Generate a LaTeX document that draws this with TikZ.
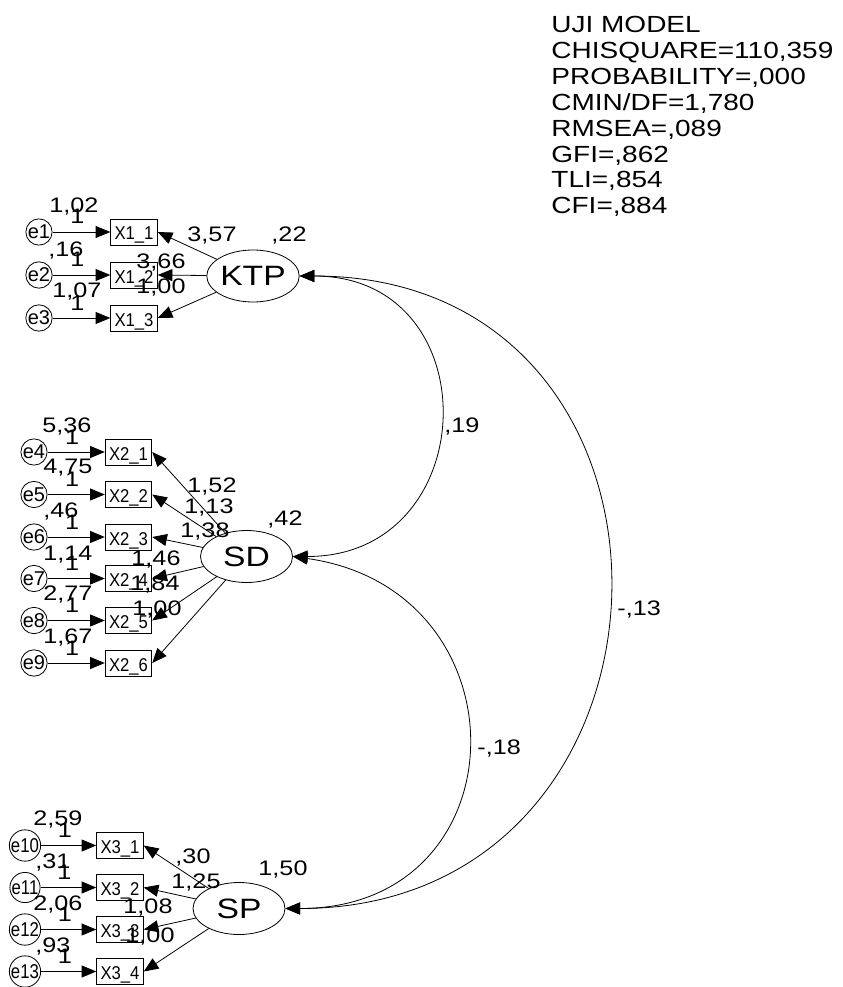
\documentclass[tikz,border=0pt]{standalone}
\usepackage{fontspec}
\setmainfont{Liberation Sans}[FakeStretch=1.2]
\newfontfamily\boxfont{Liberation Sans}[FakeStretch=0.9]
\newfontfamily\efont{Liberation Sans}
\newfontfamily\efontc{Liberation Sans}[FakeStretch=0.84]
\usetikzlibrary{arrows.meta,shapes.geometric}
\begin{document}
\begin{tikzpicture}[x=0.75pt,y=-0.75pt,line width=0.6pt,
  tip/.style={-{Triangle[length=11pt,width=9pt]}},
  dtip/.style={{Triangle[length=11pt,width=9pt]}-{Triangle[length=11pt,width=9pt]}},
  obs/.style={draw, rectangle, minimum width=35pt, minimum height=19.5pt, inner sep=0pt,
    font=\boxfont\fontsize{13.9}{14}\selectfont, text height=12pt, text depth=-2pt},
  err/.style={draw, circle, minimum size=19.5pt, inner sep=0pt, font=\efont\fontsize{15}{15}\selectfont},
  errc/.style={err, font=\efontc\fontsize{15}{15}\selectfont},
  lat/.style={draw, ellipse, minimum width=69pt, minimum height=39pt, inner sep=0pt, font=\fontsize{21}{21}\selectfont},
  lbl/.style={inner sep=0pt, anchor=base, font=\fontsize{15.75}{16}\selectfont},
  lblw/.style={lbl, anchor=base west},
  one/.style={lbl, anchor=base, yshift=6pt},
  fitstat/.style={inner sep=0pt, anchor=base west, font=\fontsize{17.5}{18}\selectfont},
]
\fill[white] (0,0) rectangle (842,987);
\useasboundingbox (0,0) rectangle (842,987);

% fit statistics
\node[fitstat] (f1) at (551,33) {UJI MODEL};
\node[fitstat] (f2) at (551,59) {CHISQUARE=110,359};
\node[fitstat] (f3) at (551,85) {PROBABILITY=,000};
\node[fitstat] (f4) at (551,111) {CMIN/DF=1,780};
\node[fitstat] (f5) at (551,137) {RMSEA=,089};
\node[fitstat] (f6) at (551,163) {GFI=,862};
\node[fitstat] (f7) at (551,188) {TLI=,854};
\node[fitstat] (f8) at (551,214) {CFI=,884};

% latent variables
\node[lat] (KTP) at (253,276) {KTP};
\node[lat] (SD) at (246.5,556.5) {SD};
\node[lat] (SP) at (239,908.5) {SP};

% group 1
\node[obs] (X11) at (134,232) {X1\_1};
\node[obs] (X12) at (134,275) {X1\_2};
\node[obs] (X13) at (134,318) {X1\_3};
\node[err] (e1) at (39,232) {e1};
\node[err] (e2) at (39,275) {e2};
\node[err] (e3) at (39,318) {e3};

% group 2
\node[obs] (X21) at (128.5,452) {X2\_1};
\node[obs] (X22) at (128.5,494.5) {X2\_2};
\node[obs] (X23) at (128.5,537) {X2\_3};
\node[obs] (X24) at (128.5,578.5) {X2\_4};
\node[obs] (X25) at (128.5,620.5) {X2\_5};
\node[obs] (X26) at (128.5,663) {X2\_6};
\node[err] (e4) at (34,452) {e4};
\node[err] (e5) at (34,494.5) {e5};
\node[err] (e6) at (34,537) {e6};
\node[err] (e7) at (34,578.5) {e7};
\node[err] (e8) at (34,620.5) {e8};
\node[err] (e9) at (34,663) {e9};

% group 3
\node[obs] (X31) at (120,845.5) {X3\_1};
\node[obs] (X32) at (120,887.5) {X3\_2};
\node[obs] (X33) at (120,929.5) {X3\_3};
\node[obs] (X34) at (120,971.5) {X3\_4};
\node[errc] (e10) at (25,845.5) {e10};
\node[errc] (e11) at (25,887.5) {e11};
\node[errc] (e12) at (25,929.5) {e12};
\node[errc] (e13) at (25,971.5) {e13};

% error arrows
\foreach \e/\x in {e1/X11,e2/X12,e3/X13,e4/X21,e5/X22,e6/X23,e7/X24,e8/X25,e9/X26,e10/X31,e11/X32,e12/X33,e13/X34}
  \draw[tip] (\e) -- node[one,pos=0.43] (one\e) {1} (\x);

% loadings
\foreach \l/\x in {KTP/X11,KTP/X12,KTP/X13,SD/X21,SD/X22,SD/X23,SD/X24,SD/X25,SD/X26,SP/X31,SP/X32,SP/X33,SP/X34}
  \draw[tip] (\l) -- (\x.east);

% covariances
\draw[dtip] (KTP.east) to[out=0,in=0,looseness=1.74] (SD.east);
\draw[dtip] (SD.east) to[out=-8,in=0,looseness=1.73] (SP.east);
\draw[dtip] (KTP.east) to[out=0,in=0,looseness=1.70] (SP.east);

% variance labels of errors
\node[lblw] (v1) at (49,213) {1,02};
\node[lblw] (v2) at (48,257) {,16};
\node[lblw] (v3) at (52,297) {1,07};
\node[lblw] (v4) at (42,432) {5,36};
\node[lblw] (v5) at (43,473) {4,75};
\node[lblw] (v6) at (43,517) {,46};
\node[lblw] (v7) at (43,560) {1,14};
\node[lblw] (v8) at (43,600) {2,77};
\node[lblw] (v9) at (43,643) {1,67};
\node[lblw] (v10) at (33,825) {2,59};
\node[lblw] (v11) at (35,868) {,31};
\node[lblw] (v12) at (33,910) {2,06};
\node[lblw] (v13) at (35,952) {,93};

% loading and latent labels
\node[lbl] (a1) at (212,242) {3,57};
\node[lbl] (a2) at (289,242) {,22};
\node[lbl] (a3) at (161,268) {3,66};
\node[lbl] (a4) at (161,293) {1,00};
\node[lbl] (b1) at (212,492) {1,52};
\node[lbl] (b2) at (209,513) {1,13};
\node[lbl] (b3) at (205,537) {1,38};
\node[lbl] (b0) at (285,525) {,42};
\node[lbl] (b4) at (156,565) {1,46};
\node[lbl] (b5) at (155,590) {1,84};
\node[lbl] (b6) at (157,615) {1,00};
\node[lbl] (c1) at (193,863) {,30};
\node[lbl] (c2) at (196,888) {1,25};
\node[lbl] (c3) at (148,913) {1,08};
\node[lbl] (c4) at (150,942) {1,00};
\node[lbl] (c0) at (283,875) {1,50};

% covariance labels
\node[lblw] (k1) at (444,432) {,19};
\node[lblw] (k2) at (477,754) {-,18};
\node[lblw] (k3) at (617,615) {-,13};
\end{tikzpicture}
\end{document}
